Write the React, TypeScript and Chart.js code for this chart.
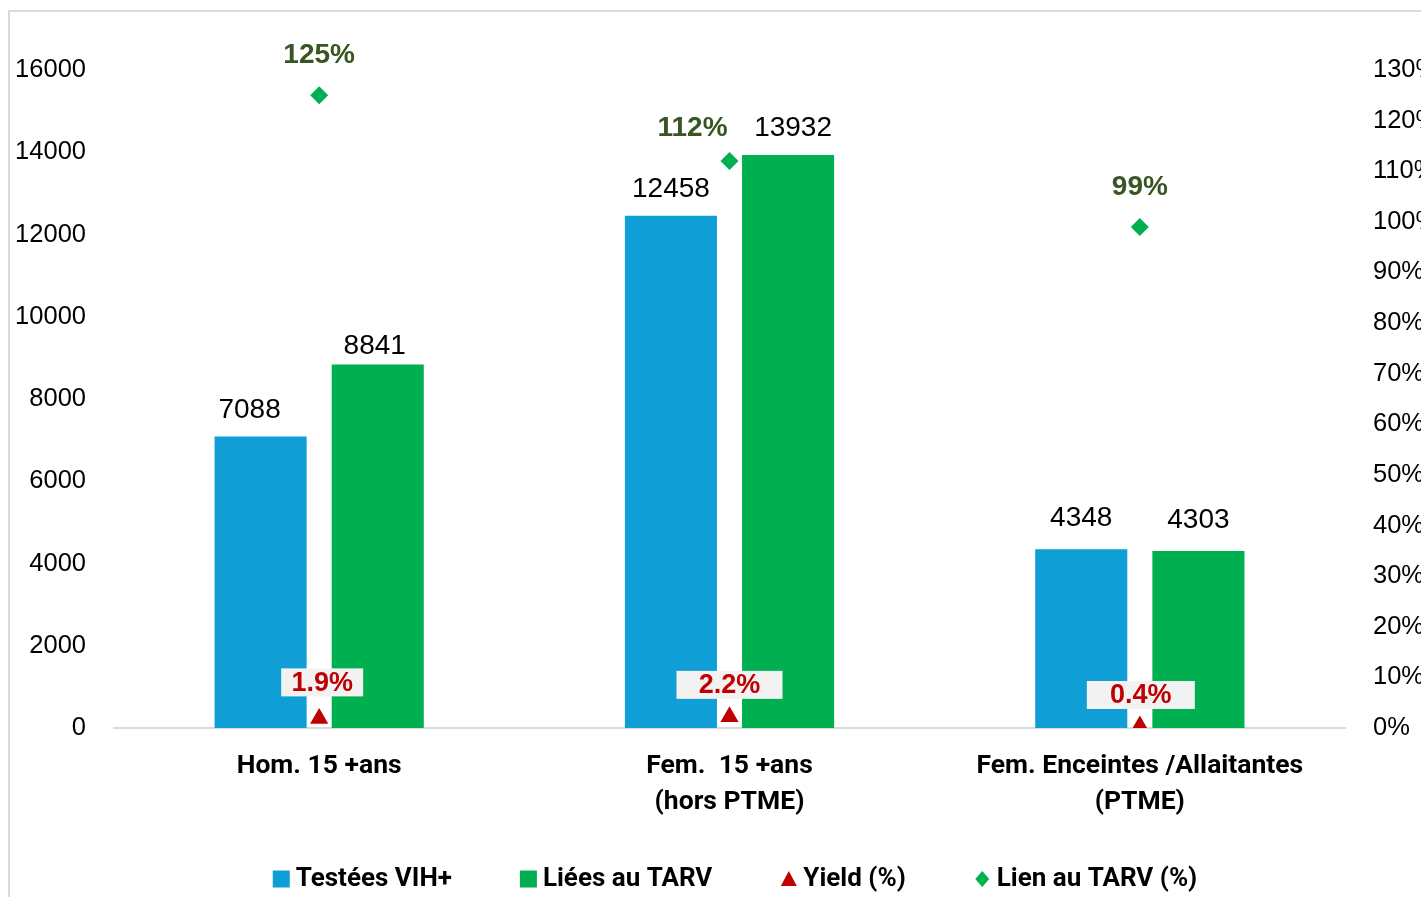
import React, { useEffect, useRef } from 'react';
import { Chart, registerables } from 'chart.js';

Chart.register(...registerables);

const categories = [
  ['Hom. 15 +ans'],
  ['Fem.  15 +ans', '(hors PTME)'],
  ['Fem. Enceintes /Allaitantes', '(PTME)'],
];
const testees = [7088, 12458, 4348];
const liees = [8841, 13932, 4303];
const yieldPct = [1.9, 2.2, 0.4];
const lienPct = [125, 112, 99];
const leftMax = 16000;
const leftStep = 2000;
const rightMax = 130;
const rightStep = 10;
const seriesNames = ['Testées VIH+', 'Liées au TARV', 'Yield (%)', 'Lien au TARV (%)'];

const BLUE = '#0F9ED5';
const GREEN = '#00B050';
const RED = '#C00000';
const DARKGREEN = '#375623';
const SANS = '"Liberation Sans", Arial, sans-serif';
const BOLD = 'Roboto, "Liberation Sans", sans-serif';

// label placement tweaks (pixels), mirroring the hand-placed labels of the original
const barLabelOffsets = [
  [[-11, -26], [0, -26], [0, -31]],
  [[-3, -18], [5, -27], [0, -31]],
];
const yieldLabelOffsets = [[3, -36], [0, -32], [1, -31]];
const yieldBoxWidths = [82, 106, 108];
const lienLabelOffsets = [[0, -40], [-37, -33], [0, -40]];

const labelPlugin = {
  id: 'customLabels',
  afterDatasetsDraw(chart: any) {
    const ctx = chart.ctx;
    ctx.save();
    ctx.textAlign = 'center';
    ctx.textBaseline = 'middle';
    // bar values
    [0, 1].forEach((di) => {
      const meta = chart.getDatasetMeta(di);
      meta.data.forEach((el: any, i: number) => {
        const v = chart.data.datasets[di].data[i];
        const o = barLabelOffsets[di][i];
        ctx.font = `28px ${SANS}`;
        ctx.fillStyle = '#000';
        ctx.fillText(String(v), el.x + o[0], el.y + o[1]);
      });
    });
    // yield labels with box
    const ym = chart.getDatasetMeta(2);
    ym.data.forEach((el: any, i: number) => {
      const t = chart.data.datasets[2].data[i] + '%';
      ctx.font = `bold 27px ${SANS}`;
      const o = yieldLabelOffsets[i];
      const cx = el.x + o[0];
      const cy = el.y + o[1];
      const bw = yieldBoxWidths[i];
      const bh = 28;
      ctx.fillStyle = '#F2F2F2';
      ctx.fillRect(cx - bw / 2, cy - bh / 2, bw, bh);
      ctx.fillStyle = RED;
      ctx.fillText(t, cx, cy + 1);
    });
    // lien labels
    const lm = chart.getDatasetMeta(3);
    lm.data.forEach((el: any, i: number) => {
      const t = chart.data.datasets[3].data[i] + '%';
      const o = lienLabelOffsets[i];
      ctx.font = `bold 28px ${SANS}`;
      ctx.fillStyle = DARKGREEN;
      ctx.fillText(t, el.x + o[0], el.y + o[1]);
    });
    ctx.restore();
  },
  afterDraw(chart: any) {
    const ctx = chart.ctx;
    ctx.save();
    ctx.font = `bold 26px ${BOLD}`;
    ctx.textBaseline = 'middle';
    ctx.textAlign = 'left';
    const marker = 17;
    const gapText = 6;
    const gapItem = 68;
    const widths = seriesNames.map((n) => ctx.measureText(n).width);
    const total = widths.reduce((a, b) => a + b, 0) + seriesNames.length * (marker + gapText) + gapItem * (seriesNames.length - 1);
    let x = 735 - total / 2;
    const y = 879;
    seriesNames.forEach((n, i) => {
      const cx = x + marker / 2;
      if (i === 0 || i === 1) {
        ctx.fillStyle = i === 0 ? BLUE : GREEN;
        ctx.fillRect(x, y - 8.5, marker, marker);
      } else if (i === 2) {
        ctx.fillStyle = RED;
        ctx.beginPath();
        ctx.moveTo(cx, y - 8);
        ctx.lineTo(cx + 8, y + 7);
        ctx.lineTo(cx - 8, y + 7);
        ctx.closePath();
        ctx.fill();
      } else {
        ctx.fillStyle = GREEN;
        ctx.beginPath();
        ctx.moveTo(cx, y - 8);
        ctx.lineTo(cx + 7, y);
        ctx.lineTo(cx, y + 8);
        ctx.lineTo(cx - 7, y);
        ctx.closePath();
        ctx.fill();
      }
      ctx.fillStyle = '#000';
      ctx.fillText(n, x + marker + gapText, y);
      x += marker + gapText + widths[i] + gapItem;
    });
    ctx.restore();
  },
};

export default function App() {
  const ref = useRef<HTMLCanvasElement>(null);
  useEffect(() => {
    if (!ref.current) return;
    const chart = new Chart(ref.current, {
      type: 'bar',
      data: {
        labels: categories as any,
        datasets: [
          { type: 'bar', label: seriesNames[0], data: testees, backgroundColor: BLUE, yAxisID: 'y', order: 2, categoryPercentage: 0.571, barPercentage: 0.786 },
          { type: 'bar', label: seriesNames[1], data: liees, backgroundColor: GREEN, yAxisID: 'y', order: 2, categoryPercentage: 0.571, barPercentage: 0.786 },
          { type: 'line', label: seriesNames[2], data: yieldPct, yAxisID: 'y1', showLine: false, pointStyle: 'triangle', pointRadius: 10.5, backgroundColor: RED, borderColor: RED, borderWidth: 0, order: 0 },
          { type: 'line', label: seriesNames[3], data: lienPct, yAxisID: 'y1', showLine: false, pointStyle: 'rectRot', pointRadius: 9, backgroundColor: GREEN, borderColor: GREEN, borderWidth: 0, order: 0 },
        ] as any,
      },
      options: {
        responsive: false,
        animation: false,
        layout: { padding: { left: 0, right: 0, top: 70, bottom: 69 } },
        plugins: { legend: { display: false }, tooltip: { enabled: false } },
        scales: {
          x: {
            grid: { display: false, drawTicks: false },
            border: { display: true, color: '#D9D9D9', width: 2 },
            ticks: { color: '#000', padding: 20, font: { family: BOLD, size: 26.5, weight: 'bold', lineHeight: 1.38 }, maxRotation: 0, autoSkip: false },
            afterFit: (s: any) => { s.height = 100; },
          },
          y: {
            position: 'left',
            min: 0,
            max: leftMax,
            grid: { display: false, drawTicks: false },
            border: { display: false },
            ticks: { stepSize: leftStep, color: '#000', padding: 28, font: { family: SANS, size: 25.5 }, callback: (v: any) => String(v) },
            afterFit: (s: any) => { s.width = 114; },
          },
          y1: {
            position: 'right',
            min: 0,
            max: rightMax,
            grid: { display: false, drawTicks: false },
            border: { display: false },
            ticks: { stepSize: rightStep, color: '#000', padding: 28, font: { family: SANS, size: 25.5 }, callback: (v: any) => v + '%' },
            afterFit: (s: any) => { s.width = 76; },
          },
        },
      } as any,
      plugins: [labelPlugin],
    });
    return () => chart.destroy();
  }, []);
  return (
    <div style={{ position: 'fixed', left: 0, top: 0, width: 1421, height: 897, overflow: 'hidden', background: '#fff' }}>
      <div style={{ position: 'absolute', left: 8, top: 10, width: 1600, height: 1200, border: '2px solid #D9D9D9', boxSizing: 'border-box' }} />
      <canvas ref={ref} width={1421} height={897} style={{ position: 'absolute', left: 0, top: 0, width: 1421, height: 897 }} />
    </div>
  );
}
